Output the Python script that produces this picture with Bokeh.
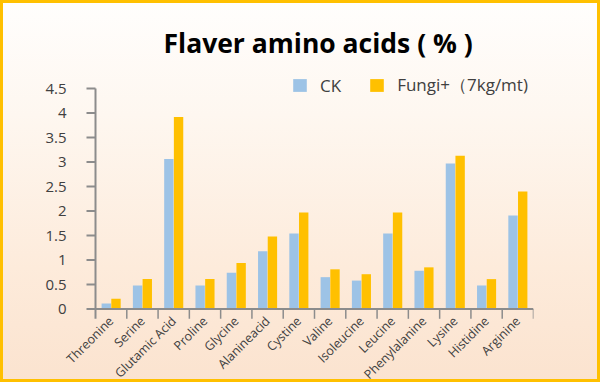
import math
from bokeh.plotting import figure
from bokeh.models import ColumnDataSource, Legend, LegendItem, Range1d
from bokeh.core.properties import value
from bokeh.embed import file_html
from bokeh.resources import INLINE

categories = ["Threonine", "Serine", "Glutamic Acid", "Proline", "Glycine", "Alanineacid",
              "Cystine", "Valine", "Isoleucine", "Leucine", "Phenylalanine", "Lysine",
              "Histidine", "Arginine"]
ck_values = [0.11, 0.48, 3.06, 0.48, 0.74, 1.18, 1.54, 0.65, 0.58, 1.54, 0.78, 2.97, 0.48, 1.91]
fungi_values = [0.21, 0.61, 3.92, 0.61, 0.94, 1.48, 1.97, 0.81, 0.71, 1.97, 0.85, 3.13, 0.61, 2.40]
y_ticks = [0, 0.5, 1, 1.5, 2, 2.5, 3, 3.5, 4, 4.5]
y_tick_labels = ["0", "0.5", "1", "1.5", "2", "2.5", "3", "3.5", "4", "4.5"]
series_names = ["CK", "Fungi+\uff087kg/mt)"]
title_text = "Flaver amino acids ( % )"

FONT = "Open Sans"
AXIS_GREY = "#8c8c8c"
LABEL_GREY = "#404040"
n = len(categories)
centers = [i + 0.5 for i in range(n)]
y_min_axis = -0.2   # axis line / boundary ticks reach below zero
y_max = max(y_ticks)

# ---- layout (pixels) ----
W, H = 600, 382
TOP, LEFT, RIGHT = 66, 30, 67
AXIS_X = 95          # pixel position of the value axis
Y_TOP_PX = 88        # pixel position of the top tick
PX_PER_UNIT = 49     # vertical scale
frame_h = H - TOP
frame_w = W - LEFT - RIGHT
px_per_cat = (W - RIGHT - AXIS_X) / n
top_val = y_max + (Y_TOP_PX - TOP) / PX_PER_UNIT
bot_val = top_val - frame_h / PX_PER_UNIT
left_val = -(AXIS_X - LEFT) / px_per_cat
right_val = left_val + frame_w / px_per_cat
tick_len = 9 / px_per_cat

src = ColumnDataSource(dict(
    xc=centers,
    ck_x=[c - 0.155 for c in centers],
    f_x=[c + 0.155 for c in centers],
    ck=ck_values,
    fungi=fungi_values,
    label=categories,
    label_y=[y_min_axis] * n,
))
ysrc = ColumnDataSource(dict(y=y_ticks, lab=y_tick_labels,
                             x0=[-tick_len] * len(y_ticks), x1=[0] * len(y_ticks)))

p = figure(width=W, height=H, output_backend="svg", toolbar_location=None,
           x_range=Range1d(left_val, right_val), y_range=Range1d(bot_val, top_val),
           min_border_left=LEFT, min_border_right=RIGHT, min_border_top=TOP, min_border_bottom=0)

p.background_fill_alpha = 0
p.border_fill_alpha = 0
p.outline_line_color = None
p.styles = {
    "background": "linear-gradient(to bottom, #fffefd 0%, #fef7f0 30%, #fdebdb 70%, #fbe3cf 100%)",
    "outline": "3px solid #ffc000",
    "outline-offset": "-3px",
}
p.xaxis.visible = False
p.yaxis.visible = False
p.grid.visible = False

# title
p.title.text = title_text
p.title.align = "left"
p.title.offset = 163 - LEFT
p.title.text_font = FONT
p.title.text_font_style = "bold"
p.title.text_font_size = "26.5px"
p.title.text_color = "#000000"
p.title.standoff = 11

r_ck = p.vbar(x="ck_x", top="ck", width=0.3, bottom=0, source=src,
              fill_color="#9dc3e6", line_color=None)
r_f = p.vbar(x="f_x", top="fungi", width=0.3, bottom=0, source=src,
             fill_color="#ffc000", line_color=None)

# value axis: line, ticks, labels
p.segment(x0=[0], y0=[y_min_axis], x1=[0], y1=[y_max], line_color=AXIS_GREY, line_width=2)
p.segment(x0="x0", y0="y", x1="x1", y1="y", source=ysrc, line_color=AXIS_GREY, line_width=2)
p.text(x="x0", y="y", text="lab", source=ysrc, x_offset=-20,
       text_align="right", text_baseline="middle",
       text_font=value(FONT), text_font_size="15px", text_color=LABEL_GREY)

# category axis: baseline, boundary ticks, rotated labels
p.segment(x0=[0], y0=[0], x1=[n], y1=[0], line_color=AXIS_GREY, line_width=2)
p.segment(x0=list(range(1, n + 1)), y0=[0] * n, x1=list(range(1, n + 1)), y1=[y_min_axis] * n,
          line_color=AXIS_GREY, line_width=1.5)
p.text(x="xc", y="label_y", text="label", source=src, angle=math.pi / 4,
       x_offset=0, y_offset=0,
       text_align="right", text_baseline="middle",
       text_font=value(FONT), text_font_size="12.5px", text_color=LABEL_GREY)

legend = Legend(items=[LegendItem(label=series_names[0], renderers=[r_ck]),
                       LegendItem(label=series_names[1], renderers=[r_f])],
                location=(291 - LEFT, frame_h - (97 - TOP)), orientation="horizontal",
                glyph_width=17, glyph_height=16, label_standoff=12, spacing=27,
                padding=0, margin=0, border_line_color=None, background_fill_alpha=0,
                label_text_font=FONT, label_text_font_size="17px", label_text_color=LABEL_GREY)
p.add_layout(legend)

open("out.html", "w").write(file_html(p, INLINE))
